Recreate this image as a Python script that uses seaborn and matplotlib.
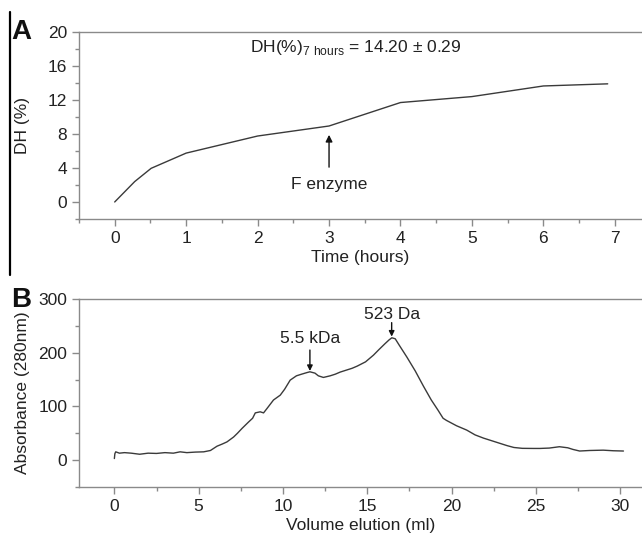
import numpy as np
import matplotlib
matplotlib.use("Agg")
import matplotlib.pyplot as plt
import seaborn as sns
import pandas as pd
from matplotlib.ticker import MultipleLocator
from matplotlib.lines import Line2D

sns.set_style("ticks")
plt.rcParams['font.family'] = ['Liberation Sans', 'DejaVu Sans']
plt.rcParams['mathtext.fontset'] = 'custom'
plt.rcParams['mathtext.rm'] = 'Liberation Sans'

# panel A - degree of hydrolysis
time_h = [0, 0.28, 0.51, 1, 2, 3, 4, 5, 6, 6.9]
dh_pct = [0, 2.4, 3.96, 5.75, 7.76, 8.94, 11.7, 12.4, 13.65, 13.9]

# panel B - gel filtration profile
vol_ml = [0.0, 0.03, 0.08, 0.3, 0.6, 1.0, 1.5, 2.0, 2.5, 3.0, 3.5, 3.9, 4.3,
          4.8, 5.3, 5.7, 6.09, 6.4, 6.68, 7.07, 7.3, 7.57, 7.96, 8.2, 8.36,
          8.65, 8.85, 9.05, 9.44, 9.84, 10.1, 10.43, 10.8, 11.1, 11.42, 11.6,
          11.9, 12.1, 12.4, 12.8, 13.1, 13.4, 13.8, 14.1, 14.4, 14.9, 15.37,
          15.7, 16.06, 16.3, 16.46, 16.66, 16.9, 17.35, 17.85, 18.33, 18.8,
          19.2, 19.5, 19.7, 20.3, 20.9, 21.4, 21.9, 22.3, 22.9, 23.3, 23.7,
          24.2, 24.86, 25.25, 25.8, 26.4, 26.9, 27.2, 27.6, 28.2, 29.0, 29.6,
          30.2]
absorb = [3, 12, 15.5, 13, 14, 13, 11, 13, 12.5, 14, 13, 15.5, 14, 15, 15.5,
          18, 26, 30, 34, 43, 50, 59, 71, 78, 88, 90, 88, 96, 112, 121, 132,
          149, 157, 160, 163, 164.5, 162, 157, 154, 157, 160, 164, 168, 171,
          175, 183, 195.5, 206, 217, 224, 227.8, 226, 214, 192, 166, 138, 112,
          93, 78, 74, 64, 56, 47, 41, 37, 31, 27, 23.6, 22, 21.8, 21.8, 22.5,
          25, 23, 20, 17, 18, 18.6, 17.5, 17]

line_col = "#3a3a3a"
spine_col = "#8a8a8a"
text_col = "#222222"

df_a = pd.DataFrame({"t": time_h, "dh": dh_pct})
df_b = pd.DataFrame({"v": vol_ml, "a": absorb})

fig = plt.figure(figsize=(6.42, 5.35), dpi=100)
ax1 = fig.add_axes([0.123, 0.5907, 0.877, 0.3495])
ax2 = fig.add_axes([0.123, 0.0897, 0.877, 0.3514])

sns.lineplot(data=df_a, x="t", y="dh", ax=ax1, color=line_col, lw=1.0)
sns.lineplot(data=df_b, x="v", y="a", ax=ax2, color=line_col, lw=1.0)


def style_axis(ax):
    ax.spines['right'].set_visible(False)
    for s in ['top', 'left', 'bottom']:
        ax.spines[s].set_color(spine_col)
        ax.spines[s].set_linewidth(1.0)
    ax.tick_params(which='both', direction='out', color=spine_col,
                   labelcolor=text_col, labelsize=12.5, top=False, right=False)
    ax.tick_params(which='major', length=5, width=1)
    ax.tick_params(which='minor', length=3, width=1)


# A
ax1.set_xlim(-0.5, 7.38)
ax1.set_ylim(-2, 20)
ax1.xaxis.set_major_locator(MultipleLocator(1))
ax1.xaxis.set_minor_locator(MultipleLocator(0.5))
ax1.yaxis.set_major_locator(MultipleLocator(4))
ax1.yaxis.set_minor_locator(MultipleLocator(2))
style_axis(ax1)
ax1.set_xlabel("Time (hours)", fontsize=12.5, color=text_col, labelpad=3)
ax1.set_ylabel("DH (%)", fontsize=12.5, color=text_col, labelpad=13)
ax1.text(3.37, 18.2, r"DH(%)$_{\mathregular{7\ hours}}$ = 14.20 ± 0.29",
         ha='center', va='center', fontsize=12.5, color=text_col)
ax1.annotate("", xy=(3, 7.9), xytext=(3, 4.1),
             arrowprops=dict(arrowstyle='-|>', color='#111111', lw=1.0,
                             mutation_scale=10, shrinkA=0, shrinkB=0))
ax1.text(3.0, 2.1, "F enzyme", ha='center', va='center', fontsize=12.5,
         color=text_col)

# B
ax2.set_xlim(-2.1, 31.3)
ax2.set_ylim(-50, 300)
ax2.xaxis.set_major_locator(MultipleLocator(5))
ax2.xaxis.set_minor_locator(MultipleLocator(2.5))
ax2.yaxis.set_major_locator(MultipleLocator(100))
ax2.yaxis.set_minor_locator(MultipleLocator(50))
style_axis(ax2)
ax2.set_xlabel("Volume elution (ml)", fontsize=12.5, color=text_col, labelpad=3)
ax2.set_ylabel("Absorbance (280nm)", fontsize=12.5, color=text_col, labelpad=6)
ax2.annotate("", xy=(11.6, 166), xytext=(11.6, 205),
             arrowprops=dict(arrowstyle='-|>', color='#111111', lw=1.0,
                             mutation_scale=8, shrinkA=0, shrinkB=0))
ax2.text(11.6, 226, "5.5 kDa", ha='center', va='center', fontsize=12.5,
         color=text_col)
ax2.annotate("", xy=(16.45, 230), xytext=(16.45, 256),
             arrowprops=dict(arrowstyle='-|>', color='#111111', lw=1.0,
                             mutation_scale=8, shrinkA=0, shrinkB=0))
ax2.text(16.45, 272, "523 Da", ha='center', va='center', fontsize=12.5,
         color=text_col)

# panel letters
fig.text(0.018, 0.94, "A", fontsize=20, fontweight='bold', color='#111111',
         va='center', ha='left')
fig.text(0.018, 0.44, "B", fontsize=20, fontweight='bold', color='#111111',
         va='center', ha='left')

# black border line on the left of panel A
fig.add_artist(Line2D([0.0148, 0.0148], [1 - 12 / 535, 1 - 275 / 535],
                      transform=fig.transFigure, color='black', lw=1.6))

fig.savefig("out.png", dpi=100)
